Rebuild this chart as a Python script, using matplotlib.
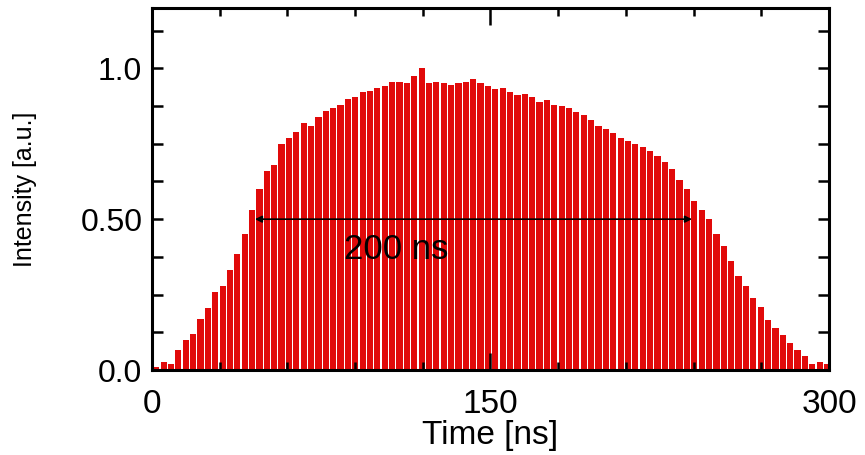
import matplotlib
matplotlib.use('Agg')
import matplotlib.pyplot as plt
from matplotlib.ticker import MultipleLocator
import numpy as np


plt.rcParams['font.family'] = 'Liberation Sans'

# pulse train: one peak height per pulse, pulses every ~3.27 ns
pulse_period = 3.266
first_pulse = 1.9
pulse_heights = [
    0.01, 0.025, 0.02, 0.065, 0.10, 0.12, 0.17, 0.205, 0.26, 0.28,
    0.33, 0.385, 0.45, 0.53, 0.60, 0.66, 0.68, 0.75, 0.77, 0.79,
    0.82, 0.81, 0.84, 0.86, 0.87, 0.88, 0.90, 0.905, 0.92, 0.925,
    0.935, 0.94, 0.955, 0.955, 0.95, 0.975, 1.0, 0.95, 0.955, 0.95,
    0.945, 0.95, 0.955, 0.965, 0.95, 0.94, 0.93, 0.935, 0.92, 0.91,
    0.915, 0.905, 0.89, 0.895, 0.88, 0.875, 0.87, 0.855, 0.845, 0.83,
    0.81, 0.80, 0.785, 0.77, 0.76, 0.75, 0.74, 0.725, 0.71, 0.69,
    0.665, 0.63, 0.60, 0.56, 0.53, 0.50, 0.45, 0.41, 0.36, 0.31,
    0.28, 0.24, 0.21, 0.165, 0.14, 0.115, 0.09, 0.065, 0.045, 0.02,
    0.025, 0.02,
]
pulse_times = first_pulse + pulse_period * np.arange(len(pulse_heights))

fwhm_start, fwhm_end = 45.6, 239.3
fwhm_label = '200 ns'

x_ticks = [0, 150, 300]
y_ticks = [0.0, 0.5, 1.0]
y_ticklabels = ['0.0', '0.50', '1.0']

fig = plt.figure(figsize=(8.65, 4.55), dpi=100)
ax = fig.add_axes([0.1757, 0.1868, 0.9584 - 0.1757, 0.9824 - 0.1868])

ax.bar(pulse_times, pulse_heights, width=2.75, color='#e10a0a',
       edgecolor='none', align='center')

ax.annotate('', xy=(fwhm_end, 0.5), xytext=(fwhm_start, 0.5),
            arrowprops=dict(arrowstyle='<|-|>', color='black', lw=1.2,
                            mutation_scale=10, shrinkA=0, shrinkB=0))
ax.text(108, 0.40, fwhm_label, fontsize=25, ha='center', va='center')

ax.set_xlim(0, 300)
ax.set_ylim(0, 1.2)
ax.set_xticks(x_ticks)
ax.set_xticklabels([str(v) for v in x_ticks])
ax.set_yticks(y_ticks)
ax.set_yticklabels(y_ticklabels)
ax.xaxis.set_minor_locator(MultipleLocator(30))
ax.yaxis.set_minor_locator(MultipleLocator(0.125))

ax.tick_params(which='both', direction='in', top=True, right=True,
               width=1.8, colors='black')
ax.tick_params(axis='y', which='both', length=8)
ax.tick_params(axis='x', which='major', length=12)
ax.tick_params(axis='x', which='minor', length=6)
ax.tick_params(axis='x', labelsize=24, pad=14)
ax.tick_params(axis='y', labelsize=23, pad=7)

for s in ax.spines.values():
    s.set_linewidth(2.2)

ax.set_xlabel('Time [ns]', fontsize=24, labelpad=0)
ax.set_ylabel('Intensity [a.u.]', fontsize=18, labelpad=31)

fig.savefig('out.png', dpi=100)
